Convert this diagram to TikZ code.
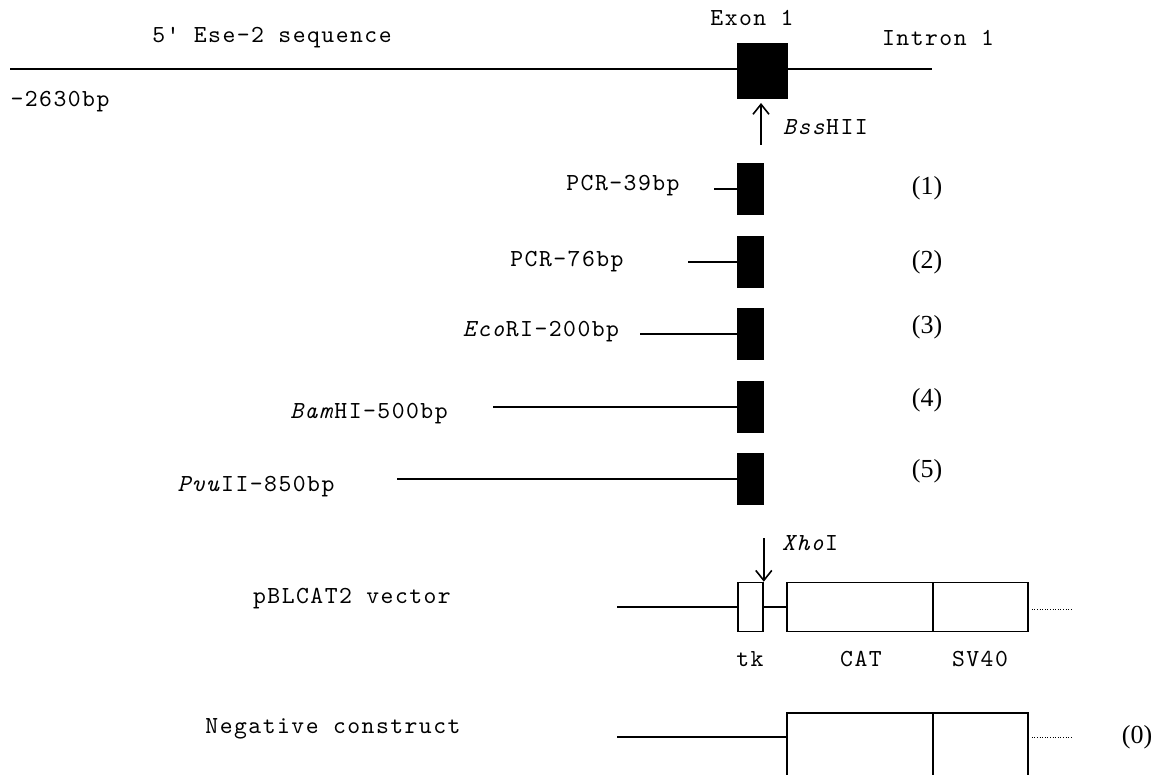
\documentclass[tikz,border=0pt]{standalone}
\usepackage{fontspec}
\setmonofont{lmmono10-regular.otf}[ItalicFont=lmmono10-italic.otf, LetterSpace=6]
\newfontfamily\numfont{Liberation Serif}
\usetikzlibrary{arrows.meta}
\newcommand{\monof}{\ttfamily\fontsize{24.5}{28}\selectfont}
\newcommand{\numf}{\numfont\fontsize{26}{30}\selectfont}
\begin{document}
\begin{tikzpicture}[x=1pt,y=-1pt,
  mono/.style={font=\monof, inner sep=0pt},
  num/.style={font=\numf, inner sep=0pt},
  blk/.style={draw, fill=black, minimum width=26pt, minimum height=51pt, inner sep=0pt, line width=1pt},
  wbox/.style={draw, fill=white, inner sep=0pt, line width=1.6pt, minimum height=49pt},
  ln/.style={line width=2pt},
  arr/.style={line width=1.6pt, -{Straight Barb[length=10pt,width=16pt,line width=1.6pt]}},
  dots/.style={line width=1pt, dash pattern=on 1pt off 1.6pt}]
\useasboundingbox (0,0) rectangle (1156,775);
\clip (0,0) rectangle (1156,775);

% top genomic line
\node[blk, minimum width=50pt, minimum height=55pt] (exon) at (762,71) {};
\coordinate (L0) at (10,69);
\coordinate (R0) at (932,69);
\draw[ln] (L0) -- (L0 -| exon.west);
\draw[ln] (R0 -| exon.east) -- (R0);
\node[mono] (t5) at (272,38) {5' Ese-2 sequence};
\node[mono] (tex) at (752,18) {Exon 1};
\node[mono] (tin) at (938,38) {Intron 1};
\node[mono] (tbp) at (60,102) {-2630bp};

% BssHII arrow
\coordinate (b1) at (761,145);
\draw[arr, shorten >=4pt] (b1) -- (b1 |- exon.south);
\node[mono, anchor=west] (tbss) at (783,127) {\textit{Bss}HII};

% fragments
\node[blk] (f1) at (750,189) {};
\node[blk] (f2) at (750,262) {};
\node[blk] (f3) at (750,334) {};
\node[blk] (f4) at (750,407) {};
\node[blk] (f5) at (750,479) {};
\coordinate (s1) at (714,189);
\coordinate (s2) at (688,262);
\coordinate (s3) at (640,334);
\coordinate (s4) at (493,407);
\coordinate (s5) at (397,479);
\draw[ln] (s1) -- (f1.west);
\draw[ln] (s2) -- (f2.west);
\draw[ln] (s3) -- (f3.west);
\draw[ln] (s4) -- (f4.west);
\draw[ln] (s5) -- (f5.west);
\node[mono] (l1) at (623,186) {PCR-39bp};
\node[mono] (l2) at (567,262) {PCR-76bp};
\node[mono] (l3) at (541,332) {\textit{Eco}RI-200bp};
\node[mono] (l4) at (369,414) {\textit{Bam}HI-500bp};
\node[mono] (l5) at (256,487) {\textit{Pvu}II-850bp};
\node[num] (n1) at (927,188) {(1)};
\node[num] (n2) at (927,262) {(2)};
\node[num] (n3) at (927,327) {(3)};
\node[num] (n4) at (927,400) {(4)};
\node[num] (n5) at (927,471) {(5)};

% pBLCAT2 vector
\node[wbox, minimum width=25pt] (tk) at (750.5,607) {};
\node[wbox, minimum width=146pt] (cat) at (860,607) {};
\node[wbox, minimum width=95pt] (sv) at (980.5,607) {};
\coordinate (v0) at (617,607);
\coordinate (vd) at (1072,609);
\draw[ln] (v0) -- (tk.west);
\draw[ln] (tk.east) -- (cat.west);
\draw[dots, shorten <=3pt] (sv.east |- vd) -- (vd);
\coordinate (x1) at (tk.north east |- 0,538);
\draw[arr] (x1) -- (tk.north east);
\node[mono, anchor=west] (txho) at (782,543) {\textit{Xho}I};
\node[mono] (tvec) at (352,599) {pBLCAT2 vector};
\node[mono] (ttk) at (750,659) {tk};
\node[mono] (tcat) at (861,659) {CAT};
\node[mono] (tsv) at (980,659) {SV40};

% negative construct
\node[wbox, minimum width=146pt, minimum height=100pt, anchor=north] (ncat) at (860,712) {};
\node[wbox, minimum width=95pt, minimum height=100pt, anchor=north] (nsv) at (980.5,712) {};
\coordinate (w0) at (617,737);
\coordinate (wd) at (1072,737);
\draw[ln] (w0) -- (w0 -| ncat.west);
\draw[dots, shorten <=3pt] (wd -| nsv.east) -- (wd);
\node[mono] (tneg) at (333,729) {Negative construct};
\node[num] (n0) at (1137,737) {(0)};
\end{tikzpicture}
\end{document}
